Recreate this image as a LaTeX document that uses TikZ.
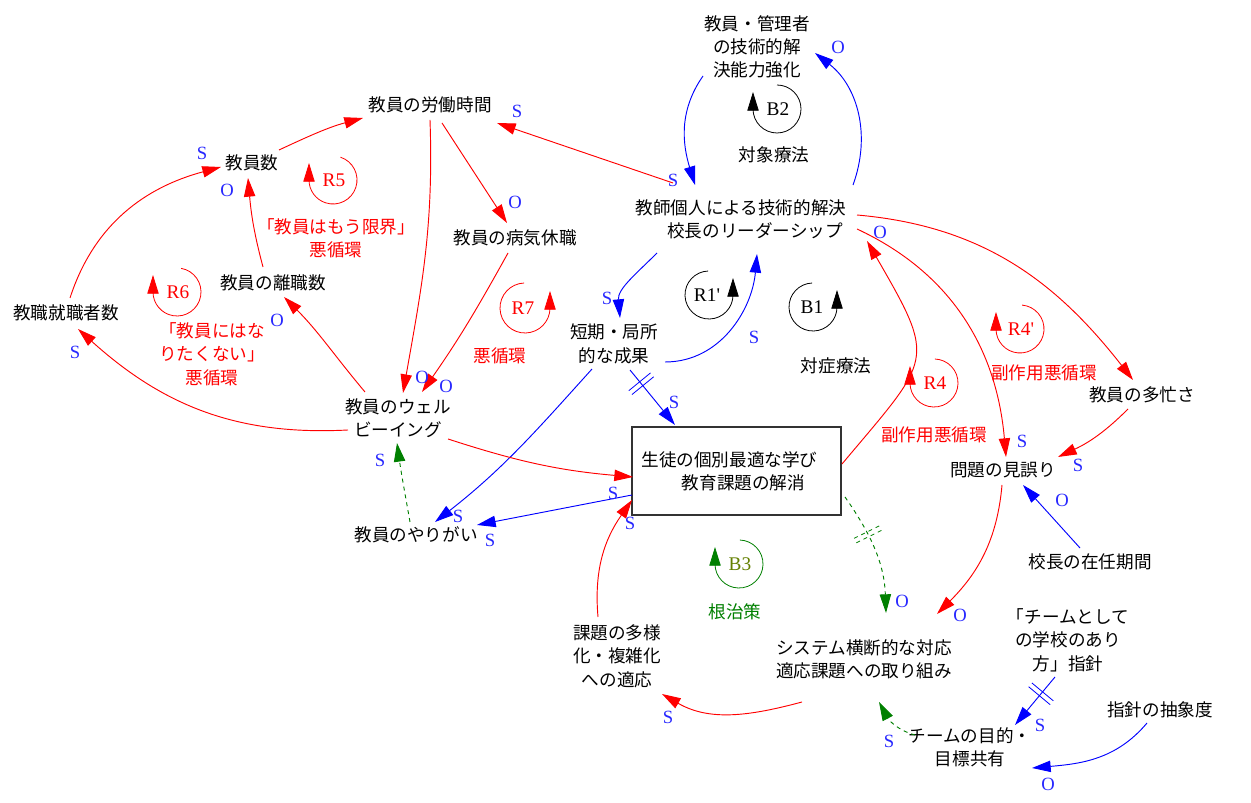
\documentclass[tikz,border=0pt]{standalone}
\usepackage{fontspec}
\setmainfont{Noto Sans CJK JP}
\newfontfamily\latfont{Liberation Serif}
\usetikzlibrary{arrows.meta,decorations.markings,calc}
\definecolor{cred}{RGB}{255,0,0}
\definecolor{cblue}{RGB}{0,0,255}
\definecolor{cgreen}{RGB}{0,128,0}
\definecolor{polblue}{RGB}{40,40,255}
\definecolor{bthree}{RGB}{100,128,0}
\begin{document}
\begin{tikzpicture}[x=0.75pt,y=0.75pt,
  >={Triangle[length=14pt,width=8.5pt]},
  var/.style={font=\fontsize{13.2}{17.5}\selectfont, align=center, inner sep=0pt},
  note/.style={font=\fontsize{13.2}{17.5}\selectfont, align=center, inner sep=0pt},
  pol/.style={font=\latfont\fontsize{14}{16}\selectfont, text=polblue, inner sep=0pt},
  lid/.style={font=\latfont\fontsize{14.5}{16}\selectfont, inner sep=0pt},
  rlink/.style={draw=cred, line width=0.7pt, ->},
  blink/.style={draw=cblue, line width=0.7pt, ->},
  glink/.style={draw=cgreen, line width=0.7pt, dashed, ->},
  loopr/.style={draw=cred, line width=0.6pt, ->},
  loopk/.style={draw=black, line width=0.6pt, ->},
  loopg/.style={draw=cgreen, line width=0.6pt, ->},
  delaymark/.style 2 args={postaction={decorate, decoration={markings,
     mark=at position #1 with {\draw[-, line width=0.6pt, #2] (-2.5,-14) -- (-2.5,14) (2.5,-14) -- (2.5,14);}}}}
]
\fill[white] (0,0) rectangle (1251,802);
\useasboundingbox (0,0) rectangle (1251,802);

% ---------- variables ----------
\node[var] (mgr) at (757,755) {教員・管理者\\の技術的解\\決能力強化};
\node[var] (work) at (430,697) {教員の労働時間};
\node[var] (tnum) at (252,639) {教員数};
\node[var] (hire) at (66,489) {教職就職者数};
\node[var] (quit) at (273,519) {教員の離職数};
\node[var] (sick) at (515,564) {教員の病気休職};
\node[var] (tech) at (748,583) {教師個人による技術的解決\hspace*{0.8em}\\\hspace*{0.8em}校長のリーダーシップ};
\node[var] (short) at (614,458) {短期・局所\\的な成果};
\node[var] (wb) at (398,384) {教員のウェル\\ビーイング};
\node[var] (yari) at (416,267) {教員のやりがい};
\node[var, draw=black!80, line width=0.8pt, minimum width=156.75pt, minimum height=66pt] (box) at (736.5,331) {生徒の個別最適な学び\hspace*{0.8em}\\\hspace*{0.8em}教育課題の解消};
\node[var] (busy) at (1142,407) {教員の多忙さ};
\node[var] (miss) at (1003,332) {問題の見誤り};
\node[var] (tenure) at (1090,240) {校長の在任期間};
\node[var] (team) at (1068,162) {「チームとして\\の学校のあり\\方」指針};
\node[var] (abst) at (1160,92) {指針の抽象度};
\node[var] (goal) at (970,55) {チームの目的・\\目標共有};
\node[var] (sys) at (864,143) {システム横断的な対応\\適応課題への取り組み};
\node[var] (div) at (617,146) {課題の多様\\化・複雑化\\への適応};

% ---------- loop notes ----------
\node[note] (n1) at (774,647) {対象療法};
\node[note] (n2) at (836,436) {対症療法};
\node[note, text=cred] (n3) at (336,564) {「教員はもう限界」\\悪循環};
\node[note, text=cred] (n4) at (212,448) {「教員にはな\\りたくない」\\悪循環};
\node[note, text=cred] (n5) at (500,446) {悪循環};
\node[note, text=cred] (n6) at (1044,429) {副作用悪循環};
\node[note, text=cred] (n7) at (934,367) {副作用悪循環};
\node[note, text=cgreen] (n8) at (735,190) {根治策};

% ---------- loop markers ----------
\node[lid, text=black] (lB2) at (778,693) {B2};
\draw[loopk] (777,693) ++(90:24) arc[start angle=90, end angle=-180, radius=24] -- ++(0,17);
\node[lid, text=black] (lR1) at (707,507) {R1'};
\draw[loopk] (709,507) ++(92:24) arc[start angle=92, end angle=360, radius=24] -- ++(0,17);
\node[lid, text=black] (lB1) at (812,495) {B1};
\draw[loopk] (813,495) ++(92:24) arc[start angle=92, end angle=360, radius=24] -- ++(0,17);
\node[lid, text=cred] (lR5) at (334,622) {R5};
\draw[loopr] (333,622) ++(72:24) arc[start angle=72, end angle=-180, radius=24] -- ++(0,17);
\node[lid, text=cred] (lR6) at (178,510) {R6};
\draw[loopr] (177,510) ++(80:24) arc[start angle=80, end angle=-180, radius=24] -- ++(0,17);
\node[lid, text=cred] (lR7) at (523,494) {R7};
\draw[loopr] (525,494) ++(92:25) arc[start angle=92, end angle=360, radius=25] -- ++(0,17);
\node[lid, text=cred] (lR4) at (935,419) {R4};
\draw[loopr] (934,419) ++(88:24) arc[start angle=88, end angle=-180, radius=24] -- ++(0,17);
\node[lid, text=cred] (lR4b) at (1021,473) {R4'};
\draw[loopr] (1020,473) ++(85:24) arc[start angle=85, end angle=-180, radius=24] -- ++(0,17);
\node[lid, text=bthree] (lB3) at (740,238) {B3};
\draw[loopg] (739,238) ++(88:24) arc[start angle=88, end angle=-180, radius=24] -- ++(0,17);

% ---------- connectors ----------
\draw[rlink] ($(tnum)+(27,13)$) to[out=25,in=195] ($(work)+(-67,-13)$);
\draw[rlink] ($(work)+(0,-15)$) to[out=-88,in=80] ($(wb)+(5,25)$);
\draw[rlink] ($(work)+(12,-18)$) -- ($(sick)+(-8,15)$);
\draw[rlink] ($(sick)+(-7,-15)$) to[out=-119,in=55] ($(wb)+(24,26)$);
\draw[rlink] ($(tech)+(-75,36)$) -- ($(work)+(67,-18)$);
\draw[blink] ($(mgr)+(-54,-29)$) to[out=-125,in=107] ($(tech)+(-53,34)$);
\draw[blink] ($(tech)+(105,34)$) to[out=70,in=-38] ($(mgr)+(58,-6)$);
\draw[blink] ($(tech)+(-91,-34)$) to[out=-135,in=95] ($(short)+(6,26)$);
\draw[blink] ($(short)+(51,-18)$) to[out=0,in=-95] ($(tech)+(9,-35)$);
\draw[blink, delaymark={0.25}{cblue}] ($(short)+(16,-26)$) -- ($(box)+(-61.5,46)$);
\draw[blink] ($(short)+(-22,-25)$) to[out=-132,in=38] ($(yari)+(19,13)$);
\draw[blink] ($(box)+(-104.5,-24)$) -- ($(yari)+(61,10)$);
\draw[rlink] ($(wb)+(50,-21)$) to[out=-18,in=175] ($(box)+(-103.5,-6)$);
\draw[rlink] ($(wb)+(-33,26)$) to[out=130,in=-45] ($(quit)+(11,-14)$);
\draw[rlink] ($(quit)+(-10,16)$) to[out=105,in=-85] ($(tnum)+(-4,-15)$);
\draw[rlink] ($(hire)+(4,15)$) to[out=72,in=195] ($(tnum)+(-31,-4)$);
\draw[rlink] ($(wb)+(-50,-12)$) to[out=183,in=-42] ($(hire)+(12,-16)$);
\draw[glink] ($(yari)+(-6,13)$) to[out=100,in=-82] ($(wb)+(-1,-25)$);
\draw[rlink] ($(box)+(105.5,7)$) to[out=50,in=-60,looseness=1.6] ($(tech)+(119,-22)$);
\draw[rlink] ($(tech)+(109,-10)$) to[out=-25,in=95] ($(miss)+(3,13)$);
\draw[rlink] ($(tech)+(109,4)$) to[out=-5,in=128] ($(busy)+(-9,15)$);
\draw[rlink] ($(busy)+(-14,-14)$) to[out=-135,in=25] ($(miss)+(55,13)$);
\draw[blink] ($(tenure)+(-10,14)$) -- ($(miss)+(20,-15)$);
\draw[rlink] ($(miss)+(-1,-15)$) to[out=-95,in=45] ($(sys)+(73,45)$);
\draw[glink, delaymark={0.35}{cgreen,dashed}] ($(box)+(108.5,-26)$) to[out=-55,in=92] ($(sys)+(22,46)$);
\draw[rlink] ($(sys)+(-62,-43)$) to[out=-165,in=-30] ($(div)+(45,-38)$);
\draw[rlink] ($(div)+(-19,39)$) to[out=95,in=-125] ($(box)+(-104.5,-29)$);
\draw[glink] ($(goal)+(-55,12)$) to[out=165,in=-62] ($(sys)+(15,-43)$);
\draw[blink, delaymark={0.35}{cblue}] ($(team)+(-13,-37)$) -- ($(goal)+(45,22)$);
\draw[blink] ($(abst)+(-13,-13)$) to[out=-130,in=5] ($(goal)+(62,-21)$);

% ---------- polarity labels ----------
\node[pol] (p1) at (517,691) {S};
\node[pol] (p2) at (673,622) {S};
\node[pol] (p3) at (838,755) {O};
\node[pol] (p4) at (515,600) {O};
\node[pol] (p5) at (202,649) {S};
\node[pol] (p6) at (227,612) {O};
\node[pol] (p7) at (277,482) {O};
\node[pol] (p8) at (75,450) {S};
\node[pol] (p9) at (422,425) {O};
\node[pol] (p10) at (446,416) {O};
\node[pol] (p11) at (607,504) {S};
\node[pol] (p12) at (754,465) {S};
\node[pol] (p13) at (674,400) {S};
\node[pol] (p14) at (380,342) {S};
\node[pol] (p15) at (458,286) {S};
\node[pol] (p16) at (490,262) {S};
\node[pol] (p17) at (613,309) {S};
\node[pol] (p18) at (630,279) {S};
\node[pol] (p19) at (880,570) {O};
\node[pol] (p20) at (1022,361) {S};
\node[pol] (p21) at (1078,337) {S};
\node[pol] (p22) at (1062,302) {O};
\node[pol] (p23) at (960,187) {O};
\node[pol] (p24) at (902,201) {O};
\node[pol] (p25) at (668,85) {S};
\node[pol] (p26) at (889,61) {S};
\node[pol] (p27) at (1040,77) {S};
\node[pol] (p28) at (1048,18) {O};
\end{tikzpicture}
\end{document}
